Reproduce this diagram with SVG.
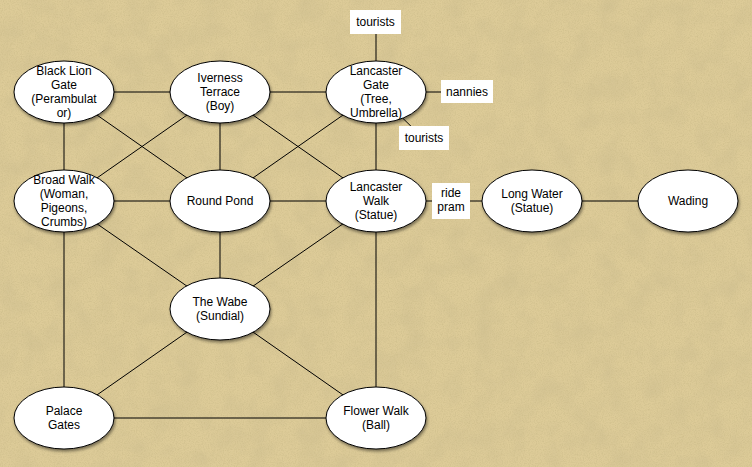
<svg xmlns="http://www.w3.org/2000/svg" width="752" height="467" viewBox="0 0 752 467">
<style>
.edge{stroke:#000;stroke-width:1;fill:none}
.node ellipse{fill:#fff;stroke:#000;stroke-width:1;filter:url(#shadow)}
text{font-family:"Liberation Sans",Arial,sans-serif;font-size:12px;fill:#000;text-anchor:middle}
.lbl rect{fill:#fff;stroke:none}
</style>
<defs>
<filter id="shadow" x="-20%" y="-20%" width="140%" height="150%">
<feDropShadow dx="1" dy="2" stdDeviation="1.5" flood-color="#000" flood-opacity="0.45"/>
</filter>
<filter id="paper" x="0" y="0" width="100%" height="100%">
<feTurbulence type="fractalNoise" baseFrequency="0.85" numOctaves="3" seed="4" result="n1"/>
<feColorMatrix in="n1" type="matrix" values="0 0 0 0 0.6  0 0 0 0 0.5  0 0 0 0 0.25  1.4 0 0 0 -0.55" result="c1"/>
<feTurbulence type="fractalNoise" baseFrequency="0.04" numOctaves="4" seed="9" result="n2"/>
<feColorMatrix in="n2" type="matrix" values="0 0 0 0 0.62  0 0 0 0 0.52  0 0 0 0 0.28  1.3 0 0 0 -0.5" result="c2"/>
<feMerge><feMergeNode in="c2"/><feMergeNode in="c1"/></feMerge>
</filter>
</defs>
<rect width="752" height="467" fill="#ddcb98"/>
<rect width="752" height="467" filter="url(#paper)"/>
<g id="connectors">
<line class="edge" x1="64" y1="92" x2="220" y2="92"/>
<line class="edge" x1="220" y1="92" x2="376" y2="92"/>
<line class="edge" x1="64" y1="92" x2="64" y2="201"/>
<line class="edge" x1="64" y1="92" x2="220" y2="201"/>
<line class="edge" x1="220" y1="92" x2="64" y2="201"/>
<line class="edge" x1="220" y1="92" x2="220" y2="201"/>
<line class="edge" x1="220" y1="92" x2="376" y2="201"/>
<line class="edge" x1="376" y1="92" x2="220" y2="201"/>
<line class="edge" x1="376" y1="92" x2="376" y2="201"/>
<line class="edge" x1="376" y1="92" x2="376" y2="22"/>
<line class="edge" x1="376" y1="92" x2="467" y2="92"/>
<line class="edge" x1="376" y1="92" x2="423" y2="138"/>
<line class="edge" x1="64" y1="201" x2="220" y2="201"/>
<line class="edge" x1="64" y1="201" x2="220" y2="309"/>
<line class="edge" x1="64" y1="201" x2="64" y2="418"/>
<line class="edge" x1="220" y1="201" x2="376" y2="201"/>
<line class="edge" x1="220" y1="201" x2="220" y2="309"/>
<line class="edge" x1="376" y1="201" x2="220" y2="309"/>
<line class="edge" x1="376" y1="201" x2="532" y2="201"/>
<line class="edge" x1="376" y1="201" x2="376" y2="418"/>
<line class="edge" x1="532" y1="201" x2="688" y2="201"/>
<line class="edge" x1="220" y1="309" x2="64" y2="418"/>
<line class="edge" x1="220" y1="309" x2="376" y2="418"/>
<line class="edge" x1="64" y1="418" x2="376" y2="418"/>
</g>
<g id="label-tourists-top" class="lbl"><rect x="350" y="10" width="51" height="24"/><text x="375.5" y="26">tourists</text></g>
<g id="label-nannies" class="lbl"><rect x="441" y="80" width="52" height="23"/><text x="467" y="96">nannies</text></g>
<g id="label-tourists-right" class="lbl"><rect x="399" y="126" width="50" height="24"/><text x="424" y="142">tourists</text></g>
<g id="label-ride-pram" class="lbl"><rect x="432" y="183" width="38" height="36"/><text x="451" y="197">ride</text><text x="451" y="211">pram</text></g>
<g id="black-lion-gate" class="node"><ellipse cx="64" cy="92" rx="50" ry="31"/><text x="64" y="75">Black Lion</text><text x="64" y="89">Gate</text><text x="64" y="103">(Perambulat</text><text x="64" y="117">or)</text></g>
<g id="iverness-terrace" class="node"><ellipse cx="220" cy="92" rx="50" ry="31"/><text x="220" y="82">Iverness</text><text x="220" y="96">Terrace</text><text x="220" y="110">(Boy)</text></g>
<g id="lancaster-gate" class="node"><ellipse cx="376" cy="92" rx="50" ry="31"/><text x="376" y="75">Lancaster</text><text x="376" y="89">Gate</text><text x="376" y="103">(Tree,</text><text x="376" y="117">Umbrella)</text></g>
<g id="broad-walk" class="node"><ellipse cx="64" cy="201" rx="50" ry="31"/><text x="64" y="184">Broad Walk</text><text x="64" y="198">(Woman,</text><text x="64" y="212">Pigeons,</text><text x="64" y="226">Crumbs)</text></g>
<g id="round-pond" class="node"><ellipse cx="220" cy="201" rx="50" ry="31"/><text x="220" y="205">Round Pond</text></g>
<g id="lancaster-walk" class="node"><ellipse cx="376" cy="201" rx="50" ry="31"/><text x="376" y="191">Lancaster</text><text x="376" y="205">Walk</text><text x="376" y="219">(Statue)</text></g>
<g id="long-water" class="node"><ellipse cx="532" cy="201" rx="50" ry="31"/><text x="532" y="198">Long Water</text><text x="532" y="212">(Statue)</text></g>
<g id="wading" class="node"><ellipse cx="688" cy="201" rx="50" ry="31"/><text x="688" y="205">Wading</text></g>
<g id="the-wabe" class="node"><ellipse cx="220" cy="309" rx="50" ry="31"/><text x="220" y="306">The Wabe</text><text x="220" y="320">(Sundial)</text></g>
<g id="palace-gates" class="node"><ellipse cx="64" cy="418" rx="50" ry="31"/><text x="64" y="415">Palace</text><text x="64" y="429">Gates</text></g>
<g id="flower-walk" class="node"><ellipse cx="376" cy="418" rx="50" ry="31"/><text x="376" y="415">Flower Walk</text><text x="376" y="429">(Ball)</text></g>
</svg>
